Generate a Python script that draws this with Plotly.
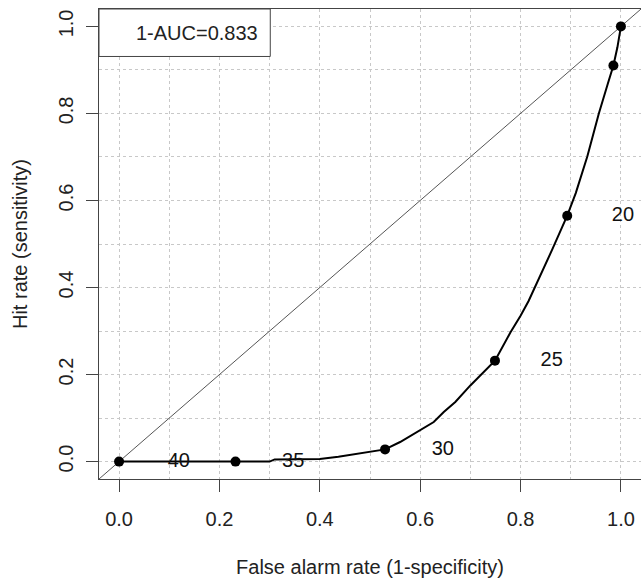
import plotly.graph_objects as go

# ROC curve (false alarm rate vs hit rate)
curve_x = [0, 0.232, 0.30, 0.31, 0.40, 0.437, 0.50, 0.530, 0.56, 0.60, 0.627, 0.647, 0.670,
           0.700, 0.723, 0.749, 0.780, 0.800, 0.816, 0.833, 0.850, 0.863, 0.893, 0.910,
           0.933, 0.956, 0.974, 0.985, 0.993, 1.0]
curve_y = [0, 0, 0, 0.005, 0.006, 0.011, 0.022, 0.028, 0.045, 0.072, 0.091, 0.114, 0.137,
           0.175, 0.201, 0.232, 0.297, 0.335, 0.369, 0.411, 0.457, 0.487, 0.565, 0.617,
           0.701, 0.800, 0.869, 0.910, 0.952, 1.0]

# threshold points
point_x = [0, 0.232, 0.530, 0.749, 0.893, 0.985, 1.0]
point_y = [0, 0, 0.028, 0.232, 0.565, 0.910, 1.0]

# threshold labels
label_text = ["40", "35", "30", "25", "20"]
label_x = [0.119, 0.347, 0.645, 0.862, 1.004]
label_y = [0.0, 0.0, 0.026, 0.232, 0.565]

# reference (no-skill) line
diag_x = [-0.04, 1.04]
diag_y = [-0.04, 1.04]

auc_text = "1-AUC=0.833"
x_ticks = [0.0, 0.2, 0.4, 0.6, 0.8, 1.0]
y_ticks = [0.0, 0.2, 0.4, 0.6, 0.8, 1.0]

FONT = "Liberation Sans, Arial, sans-serif"

fig = go.Figure()
fig.add_trace(go.Scatter(x=diag_x, y=diag_y, mode="lines",
                         line=dict(color="#555555", width=1), hoverinfo="skip"))
fig.add_trace(go.Scatter(x=curve_x, y=curve_y, mode="lines",
                         line=dict(color="black", width=2)))
fig.add_trace(go.Scatter(x=point_x, y=point_y, mode="markers",
                         marker=dict(color="black", size=10), cliponaxis=False))
fig.add_trace(go.Scatter(x=label_x, y=label_y, mode="text", text=label_text,
                         textposition="middle center", cliponaxis=False,
                         textfont=dict(family=FONT, size=20, color="#111111")))

axis_common = dict(
    showline=True, mirror=True, linecolor="#444444", linewidth=1,
    ticks="outside", ticklen=12, tickcolor="#444444", tickwidth=1,
    showgrid=True, gridcolor="#c8c8c8", griddash="dot", gridwidth=1,
    zeroline=False, tickfont=dict(family=FONT, size=20, color="#222222"),
    tickformat=".1f", automargin=False,
    minor=dict(dtick=0.1, tick0=0, showgrid=True, gridcolor="#c8c8c8",
               griddash="dot", gridwidth=1, ticks=""),
)

fig.update_xaxes(range=[-0.04, 1.04], tickvals=x_ticks, **axis_common,
                 ticklabelstandoff=10,
                 title=dict(text="False alarm rate (1-specificity)",
                            font=dict(family=FONT, size=20, color="#222222"),
                            standoff=30))
fig.update_yaxes(range=[-0.04, 1.04], tickvals=y_ticks, tickangle=-90, **axis_common,
                 ticklabelstandoff=5,
                 title=dict(text="Hit rate (sensitivity)",
                            font=dict(family=FONT, size=20, color="#222222"),
                            standoff=22))

# legend box (top-left)
fig.add_shape(type="rect", xref="paper", yref="paper", x0=0, x1=0.316, y0=0.899, y1=1,
              line=dict(color="#444444", width=1), fillcolor="white", layer="above")
fig.add_annotation(xref="paper", yref="paper", x=0.2974, y=0.9496, text=auc_text,
                   showarrow=False, xanchor="right", yanchor="middle",
                   font=dict(family=FONT, size=20, color="#222222"))

fig.update_layout(
    width=641, height=581, showlegend=False,
    plot_bgcolor="white", paper_bgcolor="white",
    margin=dict(l=99, r=0, t=9, b=102),
)

fig.write_html("out.html", config={"displayModeBar": False},
               post_script="document.body.style.margin='0';document.body.style.overflow='hidden';")
